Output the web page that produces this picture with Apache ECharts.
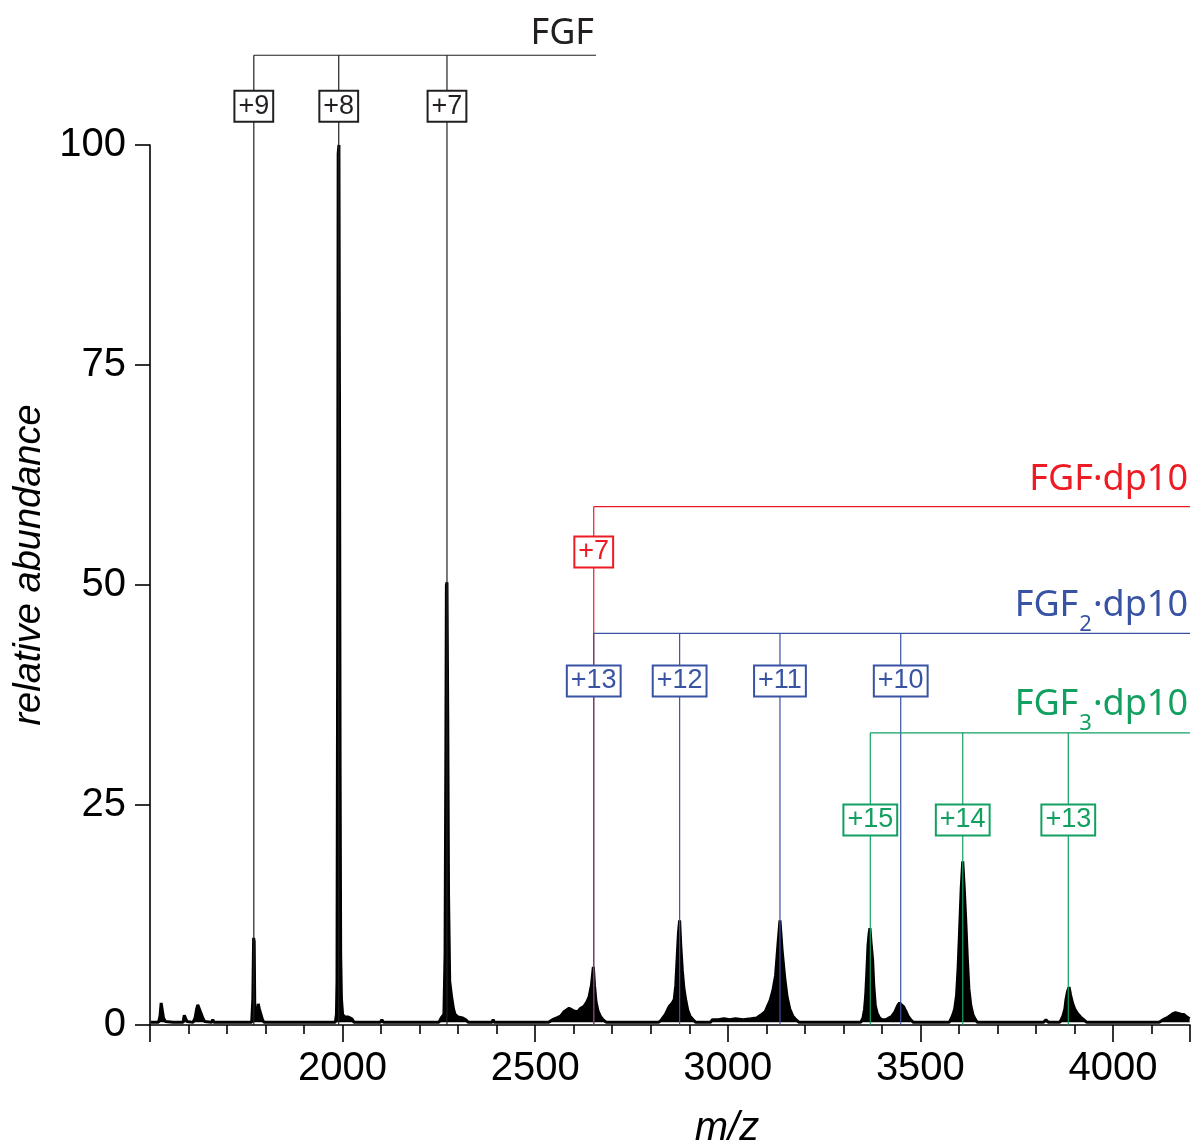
<!DOCTYPE html>
<html>
<head>
<meta charset="utf-8">
<script src="https://cdn.jsdelivr.net/npm/echarts@6/dist/echarts.min.js"></script>
<style>
  html, body { margin: 0; padding: 0; background: #fff; }
  #chart { width: 1193px; height: 1144px; }
</style>
</head>
<body>
<div id="chart"></div>
<script>
// ---- Spectrum (m/z, relative abundance) ----
const spectrumMz = [
  1502, 1522, 1526, 1529, 1532, 1535, 1540, 1560, 1586, 1589, 1593, 1596,
  1612, 1617, 1621, 1624, 1628, 1632, 1637, 1642, 1660, 1663, 1666,
  1764, 1767, 1769, 1770.5, 1772, 1774, 1777, 1781, 1784, 1788, 1792, 1796,
  1981, 1984, 1985.5, 1987, 1988.5, 1990.5, 1992, 1993.5, 1995, 1997, 2000, 2006, 2015, 2024, 2030,
  2098, 2102, 2106,
  2250, 2256, 2263, 2266, 2268, 2269.5, 2271, 2273, 2275, 2278, 2283, 2288, 2292, 2300, 2312, 2320, 2326,
  2388, 2391, 2394,
  2535, 2545, 2556, 2566, 2575, 2588, 2600, 2610, 2618, 2626, 2634, 2640, 2646, 2651, 2654, 2658, 2663, 2669, 2676, 2685,
  2820, 2826, 2838, 2848, 2856, 2861, 2865, 2869, 2872, 2875, 2878, 2882, 2886, 2891, 2896, 2902, 2910, 2917,
  2955, 2960, 2975, 2990, 3005, 3020, 3040, 3060, 3075, 3085, 3097, 3104, 3110, 3117, 3124, 3130, 3135.5, 3141, 3148, 3154, 3161, 3169, 3177, 3185,
  3345, 3351, 3355, 3358, 3361, 3364, 3367, 3369, 3372, 3376, 3379, 3383, 3388, 3394, 3400, 3410, 3418, 3426, 3434, 3441, 3446, 3451, 3456, 3462, 3468, 3475, 3482,
  3575, 3583, 3589, 3594, 3598, 3602, 3606, 3610, 3614, 3618, 3622, 3626, 3631, 3637, 3643, 3648,
  3820, 3826, 3832,
  3862, 3870, 3875, 3878, 3882, 3886, 3890, 3895, 3901, 3908, 3916, 3924, 3932,
  4120, 4130, 4140, 4150, 4156, 4162, 4170, 4178, 4184, 4192, 4199
];
const spectrumAbundance = [
  0.3, 0.3, 1.0, 2.5, 2.3, 0.8, 0.4, 0.3, 0.3, 1.1, 1.0, 0.4,
  0.3, 0.8, 1.8, 2.3, 2.1, 1.4, 0.8, 0.4, 0.3, 0.6, 0.3,
  0.3, 3.0, 9.9, 9.5, 2.0, 0.8, 1.2, 2.4, 1.8, 1.2, 0.6, 0.3,
  0.3, 1.2, 5, 40, 99, 100, 70, 30, 8, 3, 1.2, 0.9, 0.9, 0.7, 0.3,
  0.3, 0.6, 0.3,
  0.3, 0.8, 1.2, 8, 30, 50, 50.3, 35, 15, 5, 3.2, 1.8, 1.2, 0.9, 0.8, 0.6, 0.3,
  0.3, 0.6, 0.3,
  0.3, 0.6, 0.8, 1.0, 1.5, 1.9, 1.6, 1.5, 1.9, 2.1, 2.6, 3.2, 4.5, 6.6, 4.5, 2.6, 1.6, 1.0, 0.6, 0.3,
  0.3, 0.5, 1.2, 2.1, 2.5, 2.9, 4.5, 8, 10.5, 11.9, 9, 6.2, 4.2, 2.8, 1.7, 1.0, 0.6, 0.3,
  0.3, 0.6, 0.6, 0.7, 0.6, 0.7, 0.6, 0.7, 0.8, 1.1, 1.5, 2.2, 2.8, 3.9, 5.6, 9, 11.9, 8.5, 5.3, 3.2, 1.8, 1.0, 0.6, 0.3,
  0.3, 0.8, 1.8, 3.3, 6, 9, 10.4, 11.0, 9.3, 7.4, 4.5, 2.2, 1.3, 0.8, 0.6, 0.6, 0.8, 1.0, 1.5, 2.2, 2.5, 2.5, 2.1, 1.6, 1.0, 0.6, 0.3,
  0.3, 1.0, 1.8, 3.4, 6.5, 10.9, 15.5, 18.6, 15.5, 11.7, 7.5, 4.1, 2.2, 1.1, 0.6, 0.3,
  0.3, 0.6, 0.3,
  0.3, 1.0, 1.8, 2.9, 3.8, 4.3, 3.4, 2.5, 1.8, 1.3, 0.9, 0.6, 0.3,
  0.3, 0.6, 0.8, 1.1, 1.3, 1.4, 1.3, 1.2, 1.2, 0.9, 0.7
];

// ---- Peak assignments ----
const fgfMz = [1769.5, 1990, 2271];
const fgfCharges = ['+9', '+8', '+7'];
const fgfDp10Mz = [2652];
const fgfDp10Charges = ['+7'];
const fgf2Dp10Mz = [2652, 2875, 3135.5, 3449];
const fgf2Dp10Charges = ['+13', '+12', '+11', '+10'];
const fgf3Dp10Mz = [3370, 3610, 3884];
const fgf3Dp10Charges = ['+15', '+14', '+13'];

// ---- Axis ticks ----
const xMin = 1500, xMax = 4200, xInterval = 500;
const yMin = 0, yMax = 100, yInterval = 25;

// ---- Annotation groups (layout/styling) ----
const groups = [
  { mz: fgfMz, charges: fgfCharges, color: '#231f20', label: '{m|FGF}',
    bracketLevel: 110.2, boxLevel: 104.4, bracketEnd: 2658, labelOffset: 21 },
  { mz: fgfDp10Mz, charges: fgfDp10Charges, color: '#ed1c24', label: '{m|FGF·dp10}',
    bracketLevel: 58.9, boxLevel: 53.75, bracketEnd: xMax, labelOffset: 27 },
  { mz: fgf2Dp10Mz, charges: fgf2Dp10Charges, color: '#3953a4', label: '{m|FGF}{s|2}{m|·dp10}',
    bracketLevel: 44.5, boxLevel: 39.1, bracketEnd: xMax, labelOffset: 28 },
  { mz: fgf3Dp10Mz, charges: fgf3Dp10Charges, color: '#12a060', label: '{m|FGF}{s|3}{m|·dp10}',
    bracketLevel: 33.2, boxLevel: 23.3, bracketEnd: xMax, labelOffset: 28 }
];

function makeRenderer(g) {
  return function (params, api) {
    const mz = api.value(0);
    const idx = api.value(1);
    const top = api.coord([mz, g.bracketLevel]);
    const base = api.coord([mz, 0]);
    const box = api.coord([mz, g.boxLevel]);
    const children = [];
    if (idx === 0) {
      const end = api.coord([g.bracketEnd, g.bracketLevel]);
      children.push({ type: 'line', shape: { x1: top[0], y1: top[1], x2: end[0], y2: end[1] },
        style: { stroke: g.color, lineWidth: 1.2 } });
      children.push({ type: 'text', x: end[0] - 2, y: end[1] - g.labelOffset,
        style: { text: g.label, align: 'right', verticalAlign: 'middle',
          rich: {
            m: { fontSize: 36, fontFamily: 'Noto Sans', fill: g.color },
            s: { fontSize: 22, fontFamily: 'Noto Sans', fill: g.color, padding: [38, 1, 0, 1] }
          } } });
    }
    children.push({ type: 'line', shape: { x1: top[0], y1: top[1], x2: base[0], y2: base[1] },
      style: { stroke: g.color, lineWidth: 1.2 } });
    children.push({ type: 'text', x: box[0], y: box[1],
      style: { text: g.charges[idx], fill: g.color, fontSize: 27, fontFamily: 'Liberation Sans',
        align: 'center', verticalAlign: 'middle', backgroundColor: '#fff',
        borderColor: g.color, borderWidth: 2, padding: [1, 3] } });
    return { type: 'group', children: children };
  };
}

const chart = echarts.init(document.getElementById('chart'), null, { renderer: 'canvas' });
const spectrumData = spectrumMz.map((m, i) => [m, spectrumAbundance[i]]);

const option = {
  animation: false,
  backgroundColor: '#fff',
  grid: { left: 150, width: 1040, top: 145, height: 880, containLabel: false, outerBoundsMode: 'none' },
  xAxis: {
    type: 'value', min: xMin, max: xMax, interval: xInterval,
    name: 'm/z', nameLocation: 'middle', nameGap: 84,
    nameTextStyle: { fontSize: 40, fontStyle: 'italic', fontFamily: 'Liberation Sans', color: '#000', padding: [0, 0, 0, 114] },
    axisLine: { show: true, onZero: false, lineStyle: { color: '#000', width: 1.6 } },
    axisTick: { show: true, inside: false, length: 17, lineStyle: { color: '#000', width: 1.6 } },
    minorTick: { show: true, splitNumber: 5, length: 9, lineStyle: { color: '#000', width: 1.6 } },
    axisLabel: { fontSize: 40, fontFamily: 'Liberation Sans', color: '#000', margin: 24,
      showMinLabel: false, showMaxLabel: false, formatter: v => String(v) },
    splitLine: { show: false }
  },
  yAxis: {
    type: 'value', min: yMin, max: yMax, interval: yInterval,
    name: 'relative abundance', nameLocation: 'middle', nameGap: 102, nameRotate: 90,
    nameTextStyle: { fontSize: 38, fontStyle: 'italic', fontFamily: 'Liberation Sans', color: '#000', padding: [0, 0, 0, 40] },
    axisLine: { show: true, lineStyle: { color: '#000', width: 1.6 } },
    axisTick: { show: true, inside: false, length: 15, lineStyle: { color: '#000', width: 1.6 } },
    axisLabel: { fontSize: 40, fontFamily: 'Liberation Sans', color: '#000', margin: 24, formatter: v => String(v) },
    splitLine: { show: false }
  },
  series: [
    {
      type: 'line', data: spectrumData, symbol: 'none', z: 2,
      lineStyle: { color: '#000', width: 3 },
      areaStyle: { color: '#000', opacity: 1, origin: 0.3 }
    }
  ].concat(groups.map(g => ({
    type: 'custom', clip: false, z: 5,
    data: g.mz.map((m, i) => [m, i]),
    encode: { x: 0, y: 1 },
    renderItem: makeRenderer(g)
  })))
};
chart.setOption(option);
</script>
</body>
</html>
